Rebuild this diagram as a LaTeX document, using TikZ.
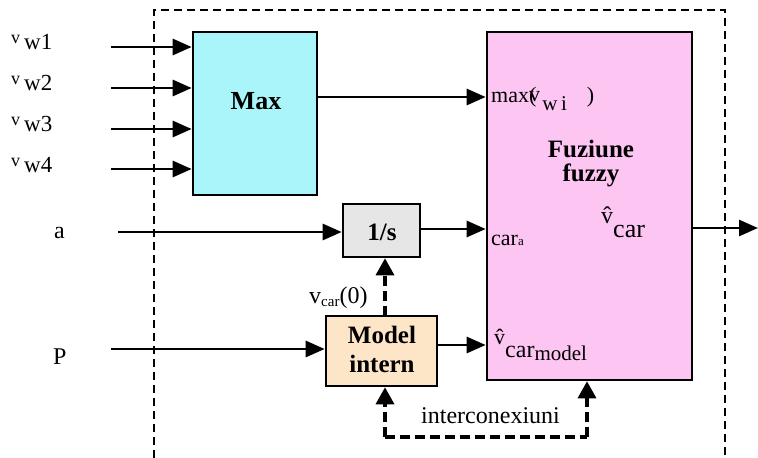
\documentclass[tikz,border=0pt]{standalone}
\usepackage{fontspec}
\setmainfont{Liberation Serif}
\usetikzlibrary{arrows.meta}
\definecolor{maxfill}{RGB}{170,245,250}
\definecolor{fuzfill}{RGB}{252,197,242}
\definecolor{intfill}{RGB}{230,230,230}
\definecolor{modfill}{RGB}{253,229,200}
\newcommand\fs[1]{\fontsize{#1}{#1}\selectfont}
\newcommand\vwlab[1]{\raisebox{6pt}{\fs{18}v}\,\fs{23}w#1}
\begin{document}
\begin{tikzpicture}[x=1pt,y=-1pt,
  block/.style={draw, line width=2.6pt, inner sep=0pt},
  sig/.style={line width=2.8pt, -{Triangle[length=19pt,width=16pt]}},
  dsig/.style={line width=3.4pt, dash pattern=on 10pt off 5pt, -{Triangle[length=17pt,width=18pt]}},
  dline/.style={line width=3.4pt, dash pattern=on 10pt off 5pt},
  frame/.style={line width=2.2pt, dash pattern=on 8pt off 5pt},
  lab/.style={inner sep=0pt, anchor=base west, font=\fs{24}},
  blab/.style={inner sep=0pt, anchor=base, font=\fs{25}\bfseries, align=center}
]
\useasboundingbox (0,0) rectangle (758,458);

% enclosing dashed frame, open at the bottom
\draw[frame] (154,458) -- (154,10) -- (725,10) -- (725,458);

% blocks
\node[block, fill=maxfill, minimum width=124pt, minimum height=163pt] (max) at (255,113.5) {};
\node[block, fill=fuzfill, minimum width=205pt, minimum height=348pt] (fuz) at (589.5,206) {};
\node[block, fill=intfill, minimum width=77pt, minimum height=53pt] (integ) at (381.5,230.5) {};
\node[block, fill=modfill, minimum width=111pt, minimum height=70pt] (model) at (381.5,351) {};

% block captions
\node[blab, font=\fs{26}\bfseries] (maxtxt) at (256,109) {Max};
\node[blab] (integtxt) at (382,240) {1/s};
\node[blab] (modtxt1) at (382,343) {Model};
\node[blab] (modtxt2) at (382,372) {intern};
\node[blab] (fuztxt1) at (591,157) {Fuziune};
\node[blab] (fuztxt2) at (591,181) {fuzzy};

% wind-speed inputs
\foreach \i/\y in {1/47, 2/88, 3/129, 4/169} {
  \coordinate (w\i) at (111,\y);
  \draw[sig] (w\i) -- (w\i -| max.west);
}
\node[lab] (lw1) at (11,49) {\vwlab{1}};
\node[lab] (lw2) at (11,90) {\vwlab{2}};
\node[lab] (lw3) at (11,131) {\vwlab{3}};
\node[lab] (lw4) at (11,172) {\vwlab{4}};

% acceleration and power inputs
\coordinate (ain) at (118,232);
\draw[sig] (ain) -- (ain -| integ.west);
\node[lab] (la) at (54,238) {a};
\coordinate (pin) at (111,349);
\draw[sig] (pin) -- (pin -| model.west);
\node[lab] (lp) at (53,364) {P};

% links into the fuzzy block
\coordinate (m1) at (317,97);
\draw[sig] (m1 -| max.east) -- (m1 -| fuz.west);
\coordinate (m2) at (420,229);
\draw[sig] (m2 -| integ.east) -- (m2 -| fuz.west);
\coordinate (m3) at (437,345);
\draw[sig] (m3 -| model.east) -- (m3 -| fuz.west);

% output
\coordinate (out) at (758,228);
\draw[sig] (out -| fuz.east) -- (out);

% fuzzy block port labels
\node[lab] (pmax) at (491,102) {\fs{22}max\rlap{\raisebox{1pt}{v}}(\hspace{6pt}\raisebox{-8pt}{\fs{21}w\,i}\hspace{20pt})};
\node[lab] (pcar) at (491,245) {\fs{22}car{\fs{13}a}};
\node[lab] (pmod) at (494,357) {\raisebox{13pt}{\fs{22}\^{v}}\fs{24}car\raisebox{-3pt}{\fs{21}model}};
\node[lab] (pout) at (601,237) {\raisebox{14pt}{\fs{24}\^{v}}\fs{26}car};

% initial condition from the internal model
\coordinate (ic) at (385,316);
\draw[dsig] (ic) -- (ic |- integ.south);
\node[lab] (lic) at (309,303) {v\raisebox{-3pt}{\fs{15}car}(0)};

% interconnections
\coordinate (c1) at (385,437);
\coordinate (c2) at (587,437);
\draw[dline] (c1) -- (c2);
\draw[dsig] (c1) -- (c1 |- model.south);
\draw[dsig] (c2) -- (c2 |- fuz.south);
\node[lab] (lint) at (421,423) {interconexiuni};
\end{tikzpicture}
\end{document}
